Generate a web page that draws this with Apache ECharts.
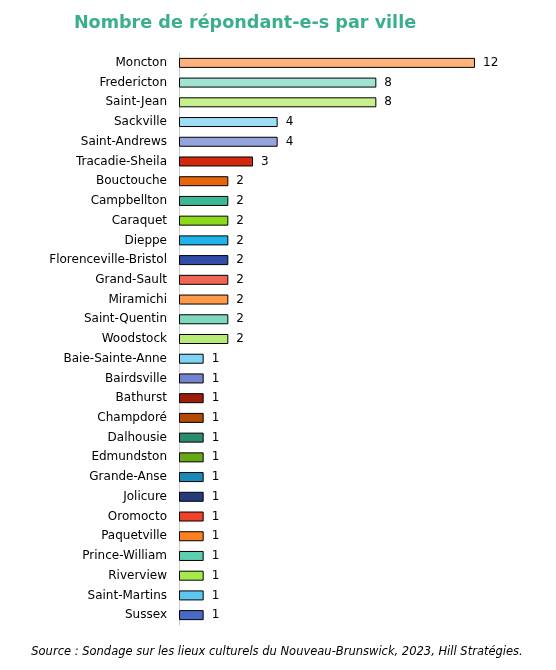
<!DOCTYPE html>
<html><head><meta charset="utf-8">
<script src="https://cdn.jsdelivr.net/npm/echarts@6/dist/echarts.min.js"></script>
<style>html,body{margin:0;padding:0;background:#fff}#c{width:556px;height:670px}</style>
</head><body><div id="c"></div>
<script>
const cities = ["Moncton","Fredericton","Saint-Jean","Sackville","Saint-Andrews","Tracadie-Sheila","Bouctouche","Campbellton","Caraquet","Dieppe","Florenceville-Bristol","Grand-Sault","Miramichi","Saint-Quentin","Woodstock","Baie-Sainte-Anne","Bairdsville","Bathurst","Champdoré","Dalhousie","Edmundston","Grande-Anse","Jolicure","Oromocto","Paquetville","Prince-William","Riverview","Saint-Martins","Sussex"];
const counts = [12,8,8,4,4,3,2,2,2,2,2,2,2,2,2,1,1,1,1,1,1,1,1,1,1,1,1,1,1];
const barColors = ["#FFB27A","#A0E3D0","#C8F08F","#9EDDF5","#94A4DC","#D0290E","#E8650A","#3AB995","#8BDA1A","#1EB4EA","#314CA7","#F06553","#FF9A4A","#7FD8BE","#B6EB75","#7DD3F1","#7384CF","#9C1E0A","#B04A05","#2A8B6E","#67A815","#168BB8","#263A7E","#F04228","#FF8020","#5CCFB0","#A7E94C","#5CC8F1","#4A68C6"];
const titleText = "Nombre de répondant-e-s par ville";
const sourceText = "Source : Sondage sur les lieux culturels du Nouveau-Brunswick, 2023, Hill Stratégies.";

const chart = echarts.init(document.getElementById('c'), null, {renderer:'canvas'});
chart.setOption({
  animation:false,
  backgroundColor:'#fff',
  title:[{
    text:titleText, left:240, top:9, textAlign:'center',
    textStyle:{fontFamily:'DejaVu Sans', fontWeight:'bold', fontSize:17.6, color:'#3AAE8E'}
  },{
    text:sourceText, left:272, top:641, textAlign:'center',
    textStyle:{fontFamily:'DejaVu Sans', fontStyle:'italic', fontWeight:'normal', fontSize:11.5, color:'#000'}
  }],
  grid:{left:179, right:81, top:53, bottom:45, containLabel:false},
  xAxis:{type:'value', min:0, max:12, show:false},
  yAxis:{type:'category', data:cities, inverse:true,
    axisLine:{show:true, lineStyle:{color:'#cccccc', width:1}},
    axisTick:{show:false},
    axisLabel:{fontFamily:'DejaVu Sans', fontSize:12, color:'#000', margin:12}
  },
  series:[{
    type:'bar', barWidth:10,
    data:counts.map((v,i)=>({value:v, itemStyle:{color:barColors[i]}})),
    itemStyle:{borderColor:'#000', borderWidth:1},
    label:{show:true, position:'right', distance:8, fontFamily:'DejaVu Sans', fontSize:12, color:'#000'}
  }]
});
</script></body></html>
